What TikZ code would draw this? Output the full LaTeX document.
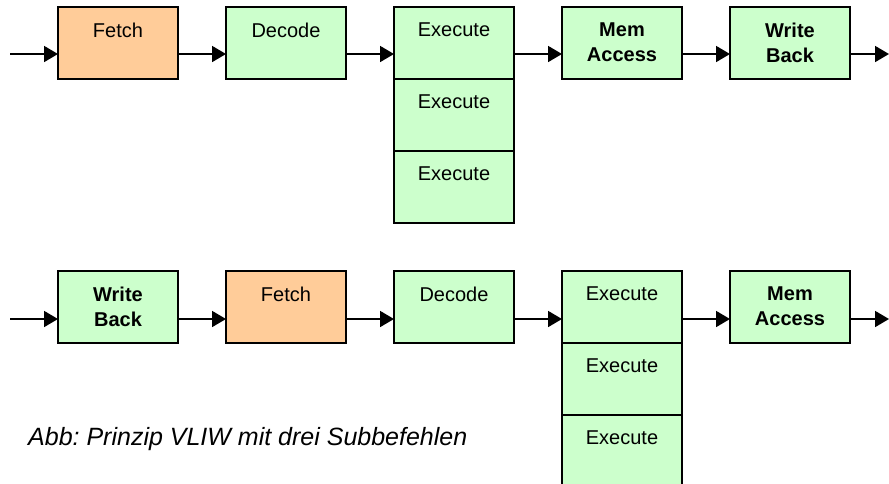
\documentclass[tikz,border=0pt]{standalone}
\usepackage{fontspec}
\setmainfont{Liberation Sans}
\usetikzlibrary{arrows.meta}
\frenchspacing

\definecolor{fetchorange}{RGB}{255,204,153}
\definecolor{stagegreen}{RGB}{204,255,204}

\tikzset{
  stage/.style={draw=black, line width=1.8pt, fill=stagegreen,
    minimum width=120pt, minimum height=72pt, inner sep=0pt, outer sep=0pt, anchor=north west},
  fetchstage/.style={stage, fill=fetchorange},
  lbl/.style={anchor=north, inner sep=0pt, align=center,
    font=\fontsize{20}{25}\selectfont},
  blbl/.style={lbl, font=\fontsize{20}{25}\selectfont\bfseries},
  arr/.style={line width=1.8pt, -{Triangle[length=14pt,width=16pt]}},
}

\begin{document}
\begin{tikzpicture}[x=1pt, y=-1pt]
\useasboundingbox (0,0) rectangle (889,483);

% ---------- upper pipeline ----------
\node[fetchstage] (fa) at (58,7) {};
\node[stage] (da) at (226,7) {};
\node[stage] (ea1) at (394,7) {};
\node[stage] (ea2) at (394,79) {};
\node[stage] (ea3) at (394,151) {};
\node[stage] (ma) at (562,7) {};
\node[stage] (wa) at (730,7) {};

\node[lbl]  (fat)  at ([yshift=-15.5pt]fa.north)  {Fetch};
\node[lbl]  (dat)  at ([yshift=-15.5pt]da.north)  {Decode};
\node[lbl]  (ea1t) at ([yshift=-16pt]ea1.north) {Execute};
\node[lbl]  (ea2t) at ([yshift=-16pt]ea2.north) {Execute};
\node[lbl]  (ea3t) at ([yshift=-16pt]ea3.north) {Execute};
\node[blbl] (mat)  at ([yshift=-15.5pt]ma.north)  {Mem\\Access};
\node[blbl] (wat)  at ([yshift=-15.5pt]wa.north)  {Write\\Back};

\coordinate (ina)  at (10,54);
\coordinate (outa) at (889,54);

\draw[arr] (ina) -- (ina -| fa.west);
\draw[arr] ([yshift=-11pt]fa.east) -- ([yshift=-11pt]da.west);
\draw[arr] ([yshift=-11pt]da.east) -- ([yshift=-11pt]ea1.west);
\draw[arr] ([yshift=-11pt]ea1.east) -- ([yshift=-11pt]ma.west);
\draw[arr] ([yshift=-11pt]ma.east) -- ([yshift=-11pt]wa.west);
\draw[arr] ([yshift=-11pt]wa.east) -- (outa);

% ---------- lower pipeline ----------
\node[stage] (wb) at (58,271) {};
\node[fetchstage] (fb) at (226,271) {};
\node[stage] (db) at (394,271) {};
\node[stage] (eb1) at (562,271) {};
\node[stage] (eb2) at (562,343) {};
\node[stage] (eb3) at (562,415) {};
\node[stage] (mb) at (730,271) {};

\node[blbl] (wbt)  at ([yshift=-15.5pt]wb.north)  {Write\\Back};
\node[lbl]  (fbt)  at ([yshift=-15.5pt]fb.north)  {Fetch};
\node[lbl]  (dbt)  at ([yshift=-15.5pt]db.north)  {Decode};
\node[lbl]  (eb1t) at ([yshift=-16pt]eb1.north) {Execute};
\node[lbl]  (eb2t) at ([yshift=-16pt]eb2.north) {Execute};
\node[lbl]  (eb3t) at ([yshift=-16pt]eb3.north) {Execute};
\node[blbl] (mbt)  at ([yshift=-15.5pt]mb.north)  {Mem\\Access};

\coordinate (inb)  at (10,319);
\coordinate (outb) at (889,319);

\draw[arr] (inb) -- (inb -| wb.west);
\draw[arr] ([yshift=-12pt]wb.east) -- ([yshift=-12pt]fb.west);
\draw[arr] ([yshift=-12pt]fb.east) -- ([yshift=-12pt]db.west);
\draw[arr] ([yshift=-12pt]db.east) -- ([yshift=-12pt]eb1.west);
\draw[arr] ([yshift=-12pt]eb1.east) -- ([yshift=-12pt]mb.west);
\draw[arr] ([yshift=-12pt]mb.east) -- (outb);

% ---------- caption ----------
\node[anchor=base west, inner sep=0pt, font=\fontsize{25}{30}\selectfont\itshape]
  (cap) at (28,445) {Abb: Prinzip VLIW mit drei Subbefehlen};
\end{tikzpicture}
\end{document}
